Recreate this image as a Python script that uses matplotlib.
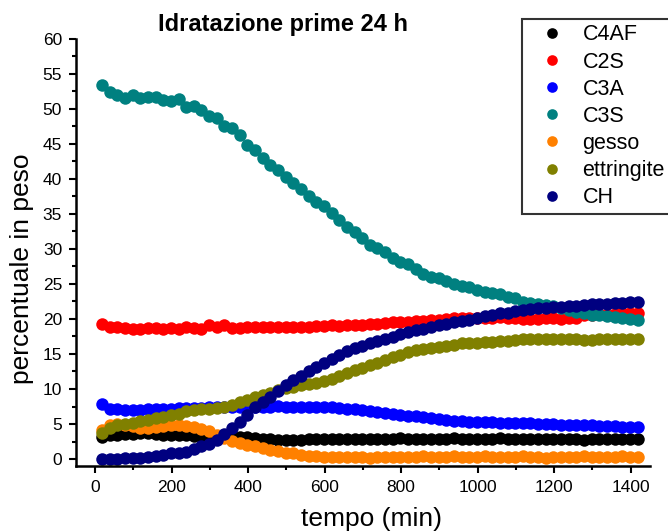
import matplotlib
matplotlib.use("Agg")
import matplotlib.pyplot as plt
from matplotlib.ticker import MultipleLocator

plt.rcParams['font.family'] = ['Liberation Sans', 'DejaVu Sans']

# tempo (min)
tempo = [18, 38, 58, 78, 98, 118, 138, 158, 178, 198,
         218, 238, 258, 278, 298, 318, 338, 358, 378, 398,
         418, 438, 458, 478, 498, 518, 538, 558, 578, 598,
         618, 638, 658, 678, 698, 718, 738, 758, 778, 798,
         818, 838, 858, 878, 898, 918, 938, 958, 978, 998,
         1018, 1038, 1058, 1078, 1098, 1118, 1138, 1158, 1178, 1198,
         1218, 1238, 1258, 1278, 1298, 1318, 1338, 1358, 1378, 1398,
         1418]

c4af = [3.2, 3.4, 3.5, 3.6, 3.6, 3.7, 3.7, 3.6, 3.5, 3.5,
        3.4, 3.4, 3.3, 3.3, 3.2, 3.2, 3.2, 3.3, 3.2, 3.1,
        3.0, 2.9, 2.8, 2.7, 2.7, 2.7, 2.7, 2.8, 2.8, 2.8,
        2.9, 2.8, 2.9, 2.8, 2.9, 2.9, 2.8, 2.9, 2.9, 3.0,
        2.9, 2.9, 2.8, 2.9, 2.9, 2.9, 3.0, 2.9, 2.8, 2.9,
        2.9, 2.9, 3.0, 2.9, 2.9, 2.8, 2.8, 2.9, 2.9, 2.8,
        2.9, 2.9, 2.8, 2.7, 2.8, 2.8, 2.9, 2.8, 2.8, 2.8,
        2.8]

c2s = [19.3, 18.9, 18.8, 18.7, 18.5, 18.6, 18.7, 18.7, 18.6, 18.7,
       18.6, 18.8, 18.7, 18.6, 19.1, 18.9, 19.1, 18.7, 18.7, 18.8,
       18.8, 18.8, 18.9, 18.8, 18.9, 18.9, 18.9, 18.9, 19.0, 19.0,
       19.1, 19.0, 19.1, 19.2, 19.2, 19.3, 19.3, 19.4, 19.5, 19.5,
       19.6, 19.7, 19.7, 19.8, 19.9, 20.0, 20.1, 20.2, 20.2, 20.1,
       20.2, 20.2, 20.3, 20.2, 20.1, 20.0, 20.0, 20.0, 20.1, 20.1,
       20.0, 20.1, 20.2, 20.5, 20.6, 20.7, 20.6, 20.7, 20.8, 20.8,
       20.8]

c3a = [7.8, 7.2, 7.1, 7.0, 7.0, 7.0, 7.1, 7.1, 7.2, 7.2,
       7.3, 7.3, 7.3, 7.3, 7.4, 7.4, 7.4, 7.4, 7.5, 7.5,
       7.5, 7.5, 7.5, 7.6, 7.5, 7.5, 7.5, 7.5, 7.5, 7.5,
       7.4, 7.3, 7.2, 7.1, 7.0, 6.8, 6.7, 6.6, 6.5, 6.3,
       6.2, 6.1, 6.0, 5.8, 5.7, 5.6, 5.5, 5.4, 5.3, 5.3,
       5.3, 5.3, 5.2, 5.2, 5.1, 5.1, 5.1, 5.0, 5.0, 5.0,
       4.9, 4.9, 4.9, 4.8, 4.8, 4.7, 4.7, 4.7, 4.6, 4.6,
       4.6]

c3s = [53.4, 52.4, 52.0, 51.6, 52.0, 51.6, 51.7, 51.7, 51.3, 51.1,
       51.4, 50.3, 50.4, 49.9, 49.0, 48.7, 47.6, 47.3, 46.3, 44.9,
       44.1, 43.0, 42.0, 41.3, 40.3, 39.4, 38.6, 37.5, 36.7, 36.2,
       35.2, 34.2, 33.1, 32.4, 31.6, 30.6, 30.1, 29.6, 28.7, 28.2,
       27.8, 27.1, 26.4, 26.0, 25.9, 25.4, 25.0, 24.7, 24.5, 24.1,
       23.8, 23.7, 23.5, 23.1, 23.0, 22.4, 22.3, 22.1, 22.0, 21.9,
       21.6, 21.3, 21.0, 20.8, 20.6, 20.5, 20.4, 20.3, 20.1, 20.0,
       19.9]

gesso = [4.1, 4.8, 5.0, 4.9, 4.7, 4.5, 4.5, 4.6, 4.7, 4.8,
         4.8, 4.7, 4.6, 4.3, 4.0, 3.5, 3.0, 2.6, 2.3, 2.0,
         1.8, 1.6, 1.3, 1.1, 0.9, 0.8, 0.6, 0.5, 0.4, 0.3,
         0.3, 0.3, 0.3, 0.3, 0.3, 0.2, 0.3, 0.3, 0.3, 0.3,
         0.3, 0.3, 0.4, 0.3, 0.3, 0.3, 0.4, 0.3, 0.3, 0.3,
         0.4, 0.3, 0.3, 0.3, 0.3, 0.4, 0.3, 0.3, 0.2, 0.3,
         0.3, 0.3, 0.3, 0.4, 0.3, 0.3, 0.3, 0.3, 0.4, 0.3,
         0.3]

ettringite = [3.7, 4.5, 4.8, 5.0, 5.2, 5.4, 5.6, 5.8, 6.0, 6.3,
              6.5, 6.8, 7.0, 7.1, 7.2, 7.3, 7.5, 7.7, 8.1, 8.4,
              8.8, 9.1, 9.5, 9.8, 10.1, 10.3, 10.5, 10.7, 10.9, 11.1,
              11.4, 11.9, 12.3, 12.7, 13.0, 13.4, 13.7, 14.2, 14.6, 14.9,
              15.3, 15.5, 15.7, 15.9, 16.0, 16.1, 16.3, 16.5, 16.5, 16.6,
              16.7, 16.7, 16.8, 16.9, 17.0, 17.2, 17.2, 17.1, 17.2, 17.2,
              17.2, 17.1, 17.1, 17.0, 17.0, 17.1, 17.2, 17.2, 17.1, 17.2,
              17.1]

ch = [0.0, 0.0, 0.0, 0.1, 0.1, 0.2, 0.3, 0.4, 0.6, 0.8,
      0.9, 1.0, 1.4, 1.8, 2.1, 2.7, 3.6, 4.4, 5.3, 6.3,
      7.4, 8.2, 8.9, 9.7, 10.6, 11.3, 11.9, 12.5, 13.1, 13.7,
      14.3, 14.9, 15.4, 15.8, 16.1, 16.6, 16.9, 17.1, 17.4, 17.8,
      18.1, 18.4, 18.6, 18.9, 19.1, 19.3, 19.5, 19.7, 19.9, 20.1,
      20.4, 20.6, 20.8, 20.9, 21.1, 21.3, 21.4, 21.5, 21.6, 21.7,
      21.7, 21.8, 21.9, 22.0, 22.1, 22.1, 22.2, 22.3, 22.3, 22.4,
      22.4]

serie = [('C4AF', c4af, '#000000'),
         ('C2S', c2s, '#ff0000'),
         ('C3A', c3a, '#0000ff'),
         ('C3S', c3s, '#008080'),
         ('gesso', gesso, '#ff8000'),
         ('ettringite', ettringite, '#808000'),
         ('CH', ch, '#000080')]

fig = plt.figure(figsize=(6.68, 5.31), dpi=100)
ax = fig.add_axes([0.1138, 0.1224, 0.859, 0.8042])

for nome, valori, colore in serie:
    ax.plot(tempo, valori, linestyle='none', marker='o', markersize=9,
            markeredgewidth=0, color=colore, label=nome)

ax.set_xlim(-50, 1450)
ax.set_ylim(-1, 60)
ax.xaxis.set_major_locator(MultipleLocator(200))
ax.xaxis.set_minor_locator(MultipleLocator(100))
ax.yaxis.set_major_locator(MultipleLocator(5))
ax.yaxis.set_minor_locator(MultipleLocator(2.5))
ax.tick_params(which='major', direction='out', length=5, width=1.5,
               labelsize=12.5, pad=5)
ax.tick_params(which='minor', direction='out', length=3, width=1.5)
ax.spines['top'].set_visible(False)
ax.spines['right'].set_visible(False)
ax.spines['left'].set_linewidth(1.8)
ax.spines['bottom'].set_linewidth(1.8)

ax.set_xlabel('tempo (min)', fontsize=19, va='center')
ax.xaxis.set_label_coords(0.515, -0.124)
ax.set_ylabel('percentuale in peso', fontsize=19, va='center')
ax.yaxis.set_label_coords(-0.094, 0.4625)
fig.text(0.424, 0.953, 'Idratazione prime 24 h', fontsize=17,
         fontweight='bold', ha='center', va='center')

leg = fig.legend(loc='upper left', bbox_to_anchor=(522 / 668, 1 - 19 / 531),
                 bbox_transform=fig.transFigure, borderaxespad=0,
                 fontsize=15.5, frameon=True, fancybox=False, borderpad=0.25,
                 labelspacing=0.285, handlelength=2.3, handletextpad=0.26,
                 markerscale=0.85)
leg.get_frame().set_edgecolor('black')
leg.get_frame().set_linewidth(1.5)

fig.savefig('out.png', dpi=100)
